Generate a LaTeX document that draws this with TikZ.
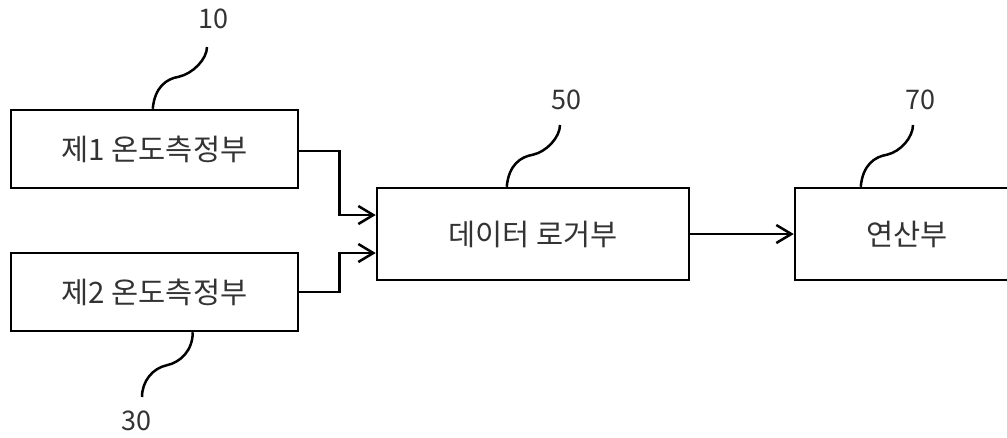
\documentclass[tikz,border=0pt]{standalone}
\usepackage{fontspec}
\newfontfamily\kr{Noto Sans CJK KR}
\usetikzlibrary{arrows.meta,calc}
\definecolor{txt}{HTML}{333333}
\tikzset{
  blk/.style={draw=black, line width=2.5pt, rectangle, inner sep=0pt, font=\kr\fontsize{29.5}{32}\selectfont, text=txt},
  num/.style={font=\kr\fontsize{27}{30}\selectfont, text=txt, inner sep=0pt},
  wire/.style={draw=black, line width=2.5pt},
  arr/.style={wire, -{Straight Barb[length=15pt,width=18pt,line width=2.5pt]}},
  sq/.style={draw=black, line width=2.5pt}
}
\begin{document}
\begin{tikzpicture}[x=1pt,y=-1pt]
\useasboundingbox (0,0) rectangle (1007,437);
\clip (0,0) rectangle (1007,437);
% blocks
\node[blk, minimum width=287pt, minimum height=78pt] (b10) at (154.5,149) {제1 온도측정부};
\node[blk, minimum width=287pt, minimum height=78pt] (b30) at (154.5,292) {제2 온도측정부};
\node[blk, minimum width=312pt, minimum height=92pt] (b50) at (533,234) {데이터 로거부};
\node[blk, minimum width=230pt, minimum height=92pt] (b70) at (910,234) {\hspace*{-6pt}연산부};
% reference labels
\node[num] (l10) at (213,19) {10};
\node[num] (l30) at (136,421) {30};
\node[num] (l50) at (566,100) {50};
\node[num] (l70) at (920,100) {70};
\coordinate (s10) at (207,47);
\coordinate (s30) at (142,397);
\coordinate (s50) at (560,125);
\coordinate (s70) at (913,125);
% squiggles
\draw[sq] ($(b10.north west)+(143,0)$) .. controls +(2,-22) and +(-12,2) .. ++(26,-32) .. controls +(14,-3) and +(0,12) .. (s10);
\draw[sq] ($(b30.south west)+(183,0)$) .. controls +(0,18) and +(14,-3) .. ++(-26,33) .. controls +(-14,3) and +(0,-16) .. (s30);
\draw[sq] ($(b50.north west)+(131,0)$) .. controls +(2,-22) and +(-12,2) .. ++(26,-32) .. controls +(14,-3) and +(0,12) .. (s50);
\draw[sq] ($(b70.north west)+(67,0)$) .. controls +(2,-22) and +(-12,2) .. ++(26,-32) .. controls +(14,-3) and +(0,12) .. (s70);
% connectors
\coordinate (in1) at ($(b50.west)+(0,-19)$);
\coordinate (in2) at ($(b50.west)+(0,19)$);
\draw[arr] ($(b10.east)+(0,2)$) -- ++(40,0) |- (in1);
\draw[arr] (b30.east) -- ++(40,0) |- (in2);
\draw[arr] (b50.east) -- (b70.west);
\end{tikzpicture}
\end{document}
